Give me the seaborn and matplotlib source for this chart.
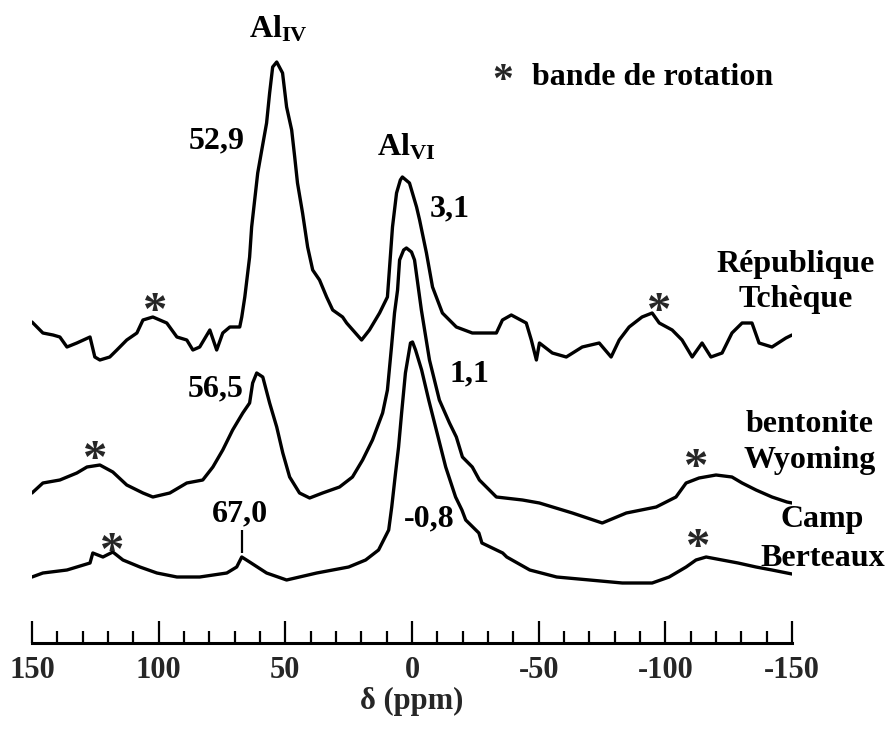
import matplotlib
matplotlib.use("Agg")
import matplotlib.pyplot as plt
from matplotlib.ticker import MultipleLocator
import seaborn as sns
import pandas as pd

# République Tchèque
ppm_rt = [150.0, 145.7, 141.7, 139.0, 136.2, 132.3, 127.1, 125.2, 123.2, 119.3, 116.5, 112.6,
          108.6, 106.2, 102.3, 96.8, 92.8, 88.9, 86.5, 83.8, 79.8, 77.1, 74.7, 71.9, 68.0, 67.2,
          66.0, 64.1, 63.3, 62.1, 60.9, 59.3, 57.4, 56.2, 55.0, 53.4, 51.1, 49.5, 47.5, 46.3,
          45.2, 43.2, 41.2, 39.2, 36.5, 33.7, 31.3, 27.4, 25.8, 19.9, 16.8, 12.8, 9.7, 7.7, 6.1,
          4.6, 3.8, 1.0, -1.8, -3.0, -5.7, -8.1, -12.0, -17.5, -23.8, -33.3, -35.7, -39.2, -45.1,
          -47.1, -49.1, -50.3, -55.4, -60.9, -67.2, -73.9, -78.6, -81.8, -85.7, -90.8, -94.8,
          -97.6, -102.7, -106.6, -110.6, -114.5, -118.0, -122.4, -126.3, -130.3, -134.2, -137.0,
          -142.1, -147.6, -150.0]
int_rt = [8, -3, -5, -7, -17, -13, -7, -27, -30, -27, -20, -10,
          -3, 10, 13, 7, -7, -10, -20, -17, 0, -20, -3, 3, 3, 13,
          33, 73, 103, 130, 157, 180, 207, 237, 263, 268, 257, 223, 200, 173,
          147, 117, 83, 60, 50, 33, 20, 13, 7, -10, 0, 17, 33, 103, 137,
          150, 153, 147, 123, 110, 77, 43, 17, 3, -3, -3, 10, 15, 7,
          -10, -30, -13, -23, -27, -17, -13, -27, -10, 3, 13, 17,
          7, 0, -10, -27, -13, -27, -23, -3, 7, 7, -13,
          -17, -8, -5]

# bentonite Wyoming
ppm_wy = [150.0, 145.7, 139.0, 132.3, 128.3, 123.2, 118.1, 112.6, 106.2, 102.3, 95.6, 88.9,
          82.6, 78.6, 74.7, 70.8, 66.8, 64.1, 62.9, 61.3, 58.9, 56.2, 53.4, 51.0, 48.3, 44.4,
          40.4, 35.3, 28.6, 23.5, 19.5, 15.6, 11.6, 9.7, 8.1, 6.9, 5.7, 4.9, 3.3, 2.2, 0.2,
          -1.0, -3.7, -6.9, -10.8, -14.8, -17.5, -19.9, -23.8, -26.6, -33.3, -43.6, -50.3,
          -63.3, -75.1, -84.6, -96.4, -104.2, -108.2, -113.3, -120.0, -126.3, -130.3, -135.8,
          -142.1, -148.0, -150.0]
int_wy = [2, 12, 15, 22, 28, 30, 23, 10, 2, -2, 2, 12,
          15, 28, 45, 65, 82, 92, 112, 122, 118, 92, 68, 42, 18, 2,
          -3, 2, 8, 18, 35, 55, 82, 105, 148, 182, 205, 235, 245, 247, 243,
          235, 185, 135, 95, 72, 58, 38, 28, 15, -2, -5, -8,
          -18, -28, -18, -12, -2, 12, 17, 20, 18, 12, 5,
          -2, -7, -8]

# Camp Berteaux
ppm_cb = [150.0, 145.7, 136.2, 127.1, 126.0, 122.0, 118.1, 114.1, 107.4, 100.7, 92.8, 83.8,
          73.1, 69.2, 67.2, 64.1, 57.4, 49.5, 37.6, 25.0, 18.3, 13.2, 9.2, 8.0, 6.5, 5.3, 4.1,
          2.6, 0.6, -0.2, -1.4, -3.8, -6.6, -13.3, -17.2, -19.7, -21.2, -26.4, -27.6, -35.8,
          -37.4, -46.5, -57.1, -70.1, -83.0, -94.8, -101.5, -108.2, -112.1, -116.1, -122.4,
          -128.7, -135.8, -142.1, -148.0, -150.0]
int_cb = [-2, 2, 5, 12, 22, 18, 23, 15, 8, 2, -2, -2,
          2, 8, 18, 13, 2, -5, 2, 8, 15, 25, 45, 68, 102, 128, 162,
          202, 232, 233, 225, 205, 175, 108, 78, 65, 55, 42, 32, 22,
          18, 5, -2, -5, -8, -8, -2, 8, 15, 18, 15,
          12, 8, 5, 2, 1]

# annotations
peak_labels = ["52,9", "3,1", "56,5", "1,1", "67,0", "-0,8"]
sample_names = [["République", "Tchèque"], ["bentonite", "Wyoming"], ["Camp", "Berteaux"]]
major_ticks = [150, 100, 50, 0, -50, -100, -150]

# --- mise en forme ---
sns.set_style("white")
plt.rcParams["font.family"] = ["Liberation Serif", "DejaVu Serif"]
plt.rcParams["font.weight"] = "bold"
plt.rcParams["axes.unicode_minus"] = False
plt.rcParams["mathtext.fontset"] = "custom"
plt.rcParams["mathtext.rm"] = "Liberation Serif:bold"
plt.rcParams["mathtext.bf"] = "Liberation Serif:bold"
plt.rcParams["mathtext.it"] = "Liberation Serif:bold"

fig = plt.figure(figsize=(8.89, 7.29), dpi=100)
ax = fig.add_axes([32 / 889, 86 / 729, 760 / 889, 643 / 729])

# décalage vertical de chaque spectre
offsets = {"rt": 313, "wy": 148, "cb": 68}
traces = [("rt", ppm_rt, int_rt), ("wy", ppm_wy, int_wy), ("cb", ppm_cb, int_cb)]
for key, ppm, inten in traces:
    df = pd.DataFrame({"ppm": ppm, "I": [v + offsets[key] for v in inten]})
    sns.lineplot(data=df, x="ppm", y="I", ax=ax, color="black", linewidth=2.4,
                 estimator=None, legend=False)

ax.set_xlim(150, -150)
ax.set_ylim(0, 643)
ax.set_yticks([])
ax.set_ylabel("")
for s in ["left", "top", "right"]:
    ax.spines[s].set_visible(False)
ax.spines["bottom"].set_linewidth(2.2)
ax.spines["bottom"].set_color("black")

ax.xaxis.set_major_locator(MultipleLocator(50))
ax.xaxis.set_minor_locator(MultipleLocator(10))
ax.set_xticks(major_ticks)
ax.set_xticklabels([str(t) for t in major_ticks])
ax.tick_params(axis="x", which="major", direction="in", length=16, width=1.6,
               color="black", labelsize=22, pad=9, bottom=True)
ax.tick_params(axis="x", which="minor", direction="in", length=8.5, width=1.6,
               color="black", bottom=True)
ax.set_xlabel("δ (ppm)", fontsize=22, fontweight="bold", labelpad=2)

txt = dict(fontsize=23, fontweight="bold", color="black")

# sites de l'aluminium
ax.text(52.8, 606, r"$\mathrm{Al}_{\mathrm{IV}}$", ha="center", va="baseline", **txt)
ax.text(2.4, 488, r"$\mathrm{Al}_{\mathrm{VI}}$", ha="center", va="baseline", **txt)

# positions des pics
label_pos = [(76.9, 502), (-14.8, 434), (77.5, 254), (-22.6, 269), (68.0, 129), (-6.9, 124)]
for lab, (px, py) in zip(peak_labels, label_pos):
    ax.text(px, py, lab, ha="center", va="center", **txt)
ax.vlines(67.0, 90, 113, color="black", linewidth=1.6)

# bandes de rotation
star_pos = [(101.5, 318), (-97.5, 318), (125.2, 170), (-112.1, 162), (118.5, 78), (-112.9, 82)]
for sx, sy in star_pos:
    ax.text(sx, sy, "*", ha="center", va="baseline", fontsize=35, fontweight="bold")
ax.text(-35.7, 551, "*", ha="center", va="baseline", fontsize=30, fontweight="bold")
ax.text(-47.5, 558, "bande de rotation", ha="left", va="baseline", **txt)

# noms des échantillons
name_pos = [(-151.5, [371, 336]), (-157.1, [211, 175]), (-162.0, [116, 77])]
for lines, (nx, ys) in zip(sample_names, name_pos):
    for line, ny in zip(lines, ys):
        ax.text(nx, ny, line, ha="center", va="baseline", clip_on=False, **txt)

fig.savefig("out.png", dpi=100)
